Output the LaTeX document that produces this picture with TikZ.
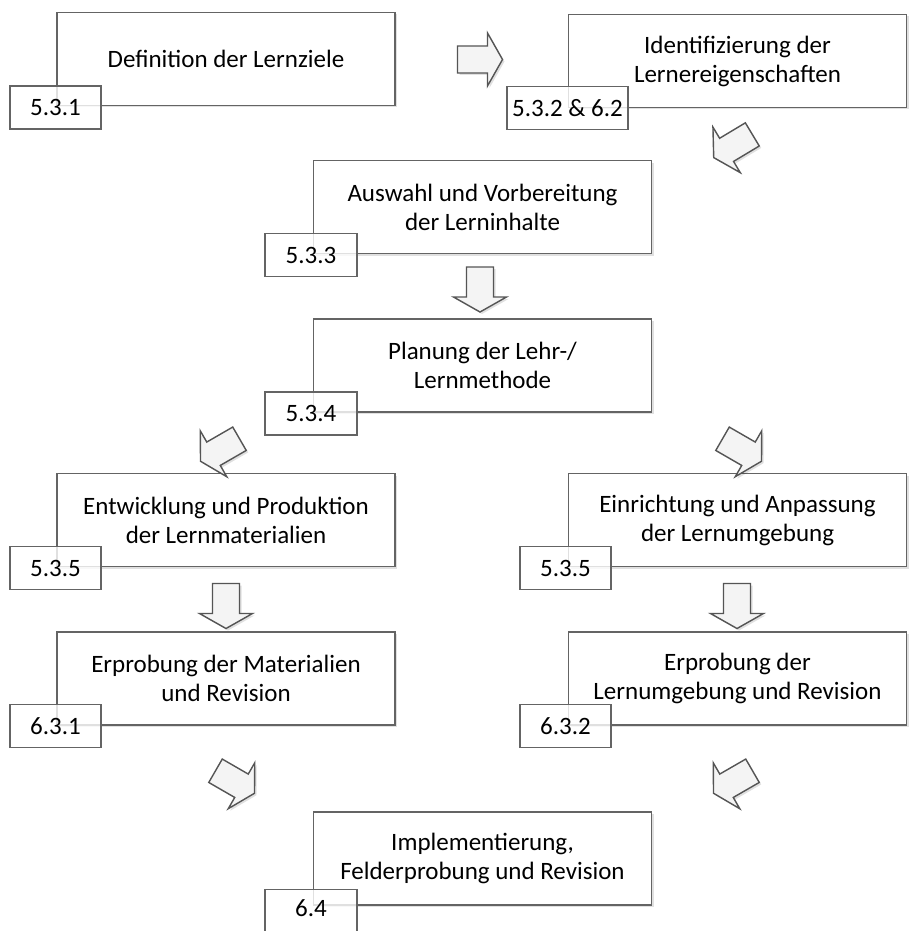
\documentclass[tikz,border=0pt]{standalone}
\usepackage{fontspec}
\setmainfont{Carlito}
\usetikzlibrary{shadows}
\definecolor{boxedge}{RGB}{100,100,100}
\definecolor{arrowedge}{RGB}{85,85,85}
\definecolor{arrowfill}{RGB}{244,244,244}
\tikzset{
  softshadow/.style={drop shadow={shadow xshift=2pt, shadow yshift=-2pt, opacity=0.12, fill=black}},
  stage/.style={draw=boxedge, line width=1.4pt, fill=white, softshadow,
    minimum width=338pt, minimum height=93pt, inner sep=0pt, align=center,
    font=\fontsize{25}{29}\selectfont},
  tag/.style={draw=boxedge, line width=1.4pt, fill=white, fill opacity=0.8,
    text opacity=1, minimum height=43pt, inner sep=0pt,
    font=\fontsize{25}{29}\selectfont},
  blockarrow/.pic={
    \draw[arrowedge, line width=1.4pt, fill=arrowfill, line join=miter, softshadow]
      (-22.5,13.5) -- (7.5,13.5) -- (7.5,26.5) -- (22.5,0) -- (7.5,-26.5)
      -- (7.5,-13.5) -- (-22.5,-13.5) -- cycle;
  }
}
\begin{document}
\begin{tikzpicture}[x=1pt, y=-1pt]
  \useasboundingbox (0,0) rectangle (909,931);
  \clip (0,0) rectangle (909,931);
  \fill[white] (0,0) rectangle (909,931);

  % process stages
  \node[stage] (ziele)    at (226,59)    {Definition der Lernziele};
  \node[stage] (lerner)   at (737.5,61)  {Identifizierung der\\Lernereigenschaften};
  \node[stage] (inhalte)  at (482.5,207) {Auswahl und Vorbereitung\\der Lerninhalte};
  \node[stage] (methode)  at (482.5,365.5) {Planung der Lehr-/\\Lernmethode};
  \node[stage] (material) at (226,520)   {Entwicklung und Produktion\\der Lernmaterialien};
  \node[stage] (umgebung) at (737.5,520) {Einrichtung und Anpassung\\der Lernumgebung};
  \node[stage] (probeM)   at (226,678.5) {Erprobung der Materialien\\und Revision};
  \node[stage] (probeU)   at (737.5,678.5) {Erprobung der\\Lernumgebung und Revision};
  \node[stage] (impl)     at (482.5,858.5) {Implementierung,\\Felderprobung und Revision};

  % section tags
  \node[tag, minimum width=91pt]  (t1) at (55.5,107.5) {5.3.1};
  \node[tag, minimum width=121pt] (t2) at (567.5,108)  {5.3.2 \& 6.2};
  \node[tag, minimum width=92pt]  (t3) at (311,255)    {5.3.3};
  \node[tag, minimum width=92pt]  (t4) at (311,413.5)  {5.3.4};
  \node[tag, minimum width=91pt]  (t5) at (55.5,568)   {5.3.5};
  \node[tag, minimum width=91pt]  (t6) at (565.5,568)  {5.3.5};
  \node[tag, minimum width=91pt]  (t7) at (55.5,726)   {6.3.1};
  \node[tag, minimum width=91pt]  (t8) at (565.5,726)  {6.3.2};
  \node[tag, minimum width=92pt, text depth=6pt] (t9) at (311,911) {6.4};

  % block arrows between the stages
  \pic[shift={(480,59.5)}]              {blockarrow};
  \pic[shift={(733,146)},  rotate=211]  {blockarrow};
  \pic[shift={(480,289.5)}, rotate=-90] {blockarrow};
  \pic[shift={(220,450)},  rotate=210]  {blockarrow};
  \pic[shift={(742,450)},  rotate=-30]  {blockarrow};
  \pic[shift={(226,606)},  rotate=-90]  {blockarrow};
  \pic[shift={(737,606)},  rotate=-90]  {blockarrow};
  \pic[shift={(235,782)},  rotate=-30]  {blockarrow};
  \pic[shift={(733,782)},  rotate=210]  {blockarrow};
\end{tikzpicture}
\end{document}
